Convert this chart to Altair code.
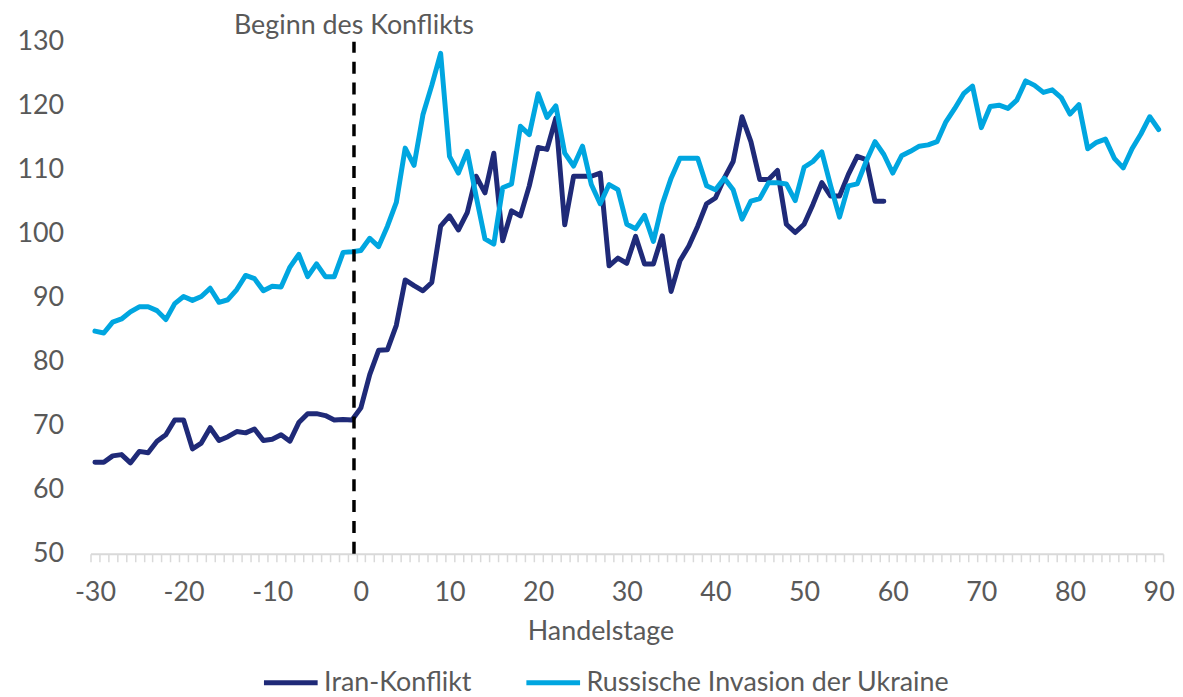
import altair as alt
import pandas as pd

# ---- data ----
iran_start = -30
iran_values = [
    64.3, 64.3, 65.3, 65.5, 64.2, 66.0, 65.8, 67.6, 68.6, 70.9,   # -30..-21
    70.9, 66.4, 67.3, 69.7, 67.7, 68.3, 69.1, 68.9, 69.5, 67.7,   # -20..-11
    67.9, 68.6, 67.6, 70.5, 71.9, 71.9, 71.6, 70.9, 71.0, 70.9,   # -10..-1
    72.8, 78.0, 81.8, 81.9, 85.7, 92.8, 91.9, 91.1, 92.4, 101.2,  # 0..9
    102.8, 100.6, 103.3, 109.0, 106.4, 112.6, 98.9, 103.6, 102.8, 107.5,  # 10..19
    113.5, 113.2, 118.1, 101.4, 109.0, 109.0, 109.0, 109.5, 95.0, 96.2,   # 20..29
    95.4, 99.6, 95.3, 95.3, 99.7, 91.0, 95.8, 98.1, 101.2, 104.7,         # 30..39
    105.6, 108.7, 111.3, 118.3, 114.4, 108.5, 108.5, 109.9, 101.5, 100.2, # 40..49
    101.5, 104.6, 108.0, 105.9, 105.9, 109.3, 112.1, 111.6, 105.1, 105.1, # 50..59
]
ukraine_start = -30
ukraine_values = [
    84.8, 84.5, 86.2, 86.7, 87.8, 88.6, 88.6, 88.0, 86.6, 89.1,   # -30..-21
    90.2, 89.6, 90.2, 91.5, 89.3, 89.7, 91.3, 93.5, 93.0, 91.1,   # -20..-11
    91.8, 91.7, 94.8, 96.8, 93.3, 95.3, 93.3, 93.3, 97.1, 97.2,   # -10..-1
    97.4, 99.3, 98.0, 101.2, 104.9, 113.4, 110.7, 118.6, 123.2, 128.2,  # 0..9
    112.1, 109.5, 112.9, 105.9, 99.2, 98.4, 107.2, 107.8, 116.8, 115.5, # 10..19
    121.9, 118.2, 120.0, 112.6, 110.6, 113.7, 107.7, 104.7, 107.7, 106.9, # 20..29
    101.5, 100.8, 102.9, 98.8, 104.6, 108.7, 111.8, 111.8, 111.8, 107.5,  # 30..39
    106.9, 108.7, 106.9, 102.3, 105.1, 105.5, 108.0, 108.0, 107.8, 105.2, # 40..49
    110.4, 111.3, 112.8, 107.5, 102.6, 107.5, 107.8, 111.3, 114.4, 112.4, # 50..59
    109.5, 112.2, 112.9, 113.7, 113.9, 114.4, 117.5, 119.6, 121.9, 123.1, # 60..69
    116.6, 119.9, 120.1, 119.6, 120.9, 123.9, 123.2, 122.1, 122.5, 121.3, # 70..79
    118.7, 120.2, 113.3, 114.3, 114.8, 111.8, 110.3, 113.3, 115.6, 118.3, # 80..89
    116.3,                                                                  # 90
]
series_names = ["Iran-Konflikt", "Russische Invasion der Ukraine"]
series_colors = ["#1f2a78", "#00a6e0"]
y_ticks = list(range(50, 131, 10))
event_day = -1
event_label = "Beginn des Konflikts"
x_title = "Handelstage"

rows = []
for i, v in enumerate(iran_values):
    rows.append({"tag": iran_start + i, "wert": v, "serie": series_names[0]})
for i, v in enumerate(ukraine_values):
    rows.append({"tag": ukraine_start + i, "wert": v, "serie": series_names[1]})
df = pd.DataFrame(rows)

FONT = "Lato"
GREY = "#595959"
FS = 27

# minor ticks between trading days (category boundaries), labels every 10 days
tick_vals = [t - 0.5 for t in range(-30, 91)] + [90.5]

x_scale = alt.Scale(domain=[-30.5, 90.5], nice=False, zero=False)
y_scale = alt.Scale(domain=[50, 130], nice=False, zero=False)

x_axis = alt.Axis(
    values=tick_vals,
    tickCount=500,
    labelExpr="(datum.value + 0.5) % 10 == 0 ? '' + (datum.value + 0.5) : ''",
    labelOffset=4.46,
    labelOverlap=False,
    labelBound=False,
    labelFlush=False,
    tickSize=8,
    tickColor="#d9d9d9",
    tickWidth=1.5,
    domainColor="#d9d9d9",
    domainWidth=2,
    labelFont=FONT,
    labelFontSize=FS,
    labelColor=GREY,
    labelBaseline="alphabetic",
    labelPadding=39,
    title=x_title,
    titleFont=FONT,
    titleFontSize=FS,
    titleFontWeight="normal",
    titleColor=GREY,
    titleX=513,
    titleY=86,
    titleAlign="center",
    titleBaseline="alphabetic",
    grid=False,
)
y_axis = alt.Axis(
    values=y_ticks,
    domain=False,
    ticks=False,
    grid=False,
    labelFont=FONT,
    labelFontSize=FS,
    labelColor=GREY,
    labelPadding=27,
    title=None,
)

lines = alt.Chart(df).mark_line(strokeWidth=5, strokeJoin="round", strokeCap="round").encode(
    x=alt.X("tag:Q", scale=x_scale, axis=x_axis),
    y=alt.Y("wert:Q", scale=y_scale, axis=y_axis),
    color=alt.Color(
        "serie:N",
        scale=alt.Scale(domain=series_names, range=series_colors),
        legend=alt.Legend(
            title=None,
            orient="none",
            direction="horizontal",
            legendX=172,
            legendY=615,
            padding=0,
            symbolType="stroke",
            symbolSize=2916,
            symbolStrokeWidth=5,
            labelFont=FONT,
            labelFontSize=FS,
            labelColor=GREY,
            labelOffset=4,
            labelLimit=600,
            columnPadding=44,
        ),
    ),
)

event_df = pd.DataFrame({"tag": [event_day], "lo": [50], "hi": [130], "label": [event_label]})

rule = alt.Chart(event_df).mark_rule(
    color="black", strokeWidth=3.5, strokeDash=[12, 9], xOffset=2
).encode(
    x=alt.X("tag:Q", scale=x_scale),
    y=alt.Y("lo:Q", scale=y_scale),
    y2="hi:Q",
)

label = alt.Chart(event_df).mark_text(
    font=FONT, fontSize=FS, color=GREY, align="center", baseline="alphabetic", dy=-8, dx=2
).encode(
    x=alt.X("tag:Q", scale=x_scale),
    y=alt.Y("hi:Q", scale=y_scale),
    text="label:N",
)

chart = alt.layer(lines, rule, label).properties(
    width=1079,
    height=515,
    autosize=alt.AutoSizeParams(type="none"),
    padding={"left": 83, "top": 32, "right": 12, "bottom": 141},
).configure_view(stroke=None)

chart.save("out.html", embed_options={"renderer": "svg", "actions": False})
